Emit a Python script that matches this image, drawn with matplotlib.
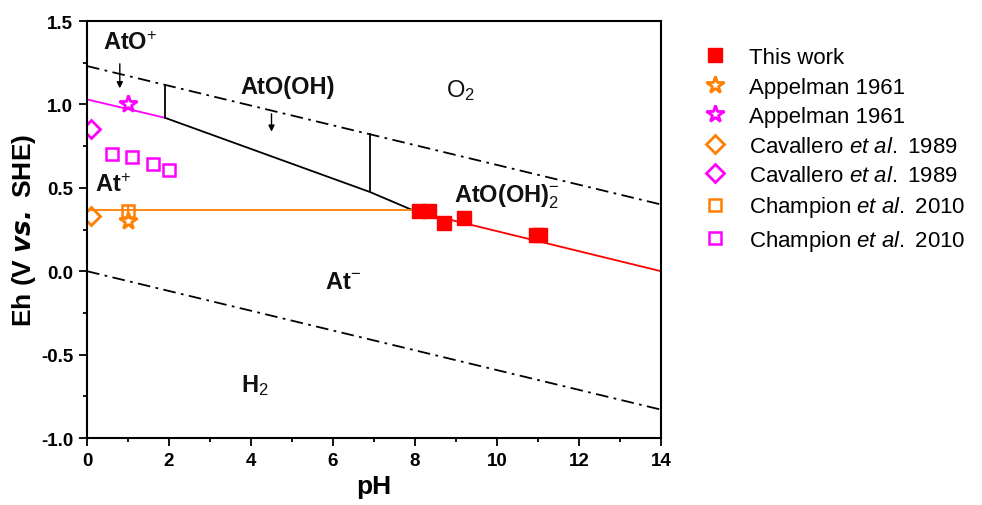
import matplotlib
matplotlib.use("Agg")
import matplotlib.pyplot as plt
import numpy as np

plt.rcParams['font.family'] = ['Liberation Sans', 'DejaVu Sans']
plt.rcParams['mathtext.fontset'] = 'custom'
plt.rcParams['mathtext.rm'] = 'Liberation Sans'
plt.rcParams['mathtext.it'] = 'Liberation Sans:italic'
plt.rcParams['mathtext.bf'] = 'Liberation Sans:bold'

# water stability lines
ph_water = [0, 14]
eh_o2 = [1.23, 0.40]
eh_h2 = [0.0, -0.83]

# species boundaries
ph_ato_at = [0, 1.9]
eh_ato_at = [1.03, 0.92]
ph_black = [1.9, 6.9, 8.0]
eh_black = [0.92, 0.475, 0.36]
ph_orange = [0, 8.0]
eh_orange = [0.365, 0.365]
ph_red = [8.0, 14]
eh_red = [0.36, 0.0]
vert_ph = [1.9, 6.9]
vert_lo = [0.92, 0.475]
vert_hi = [1.12, 0.83]

# data points
this_ph = [8.1, 8.35, 8.7, 9.2, 10.95, 11.05]
this_eh = [0.36, 0.36, 0.29, 0.32, 0.22, 0.22]
app_or_ph, app_or_eh = [1.0], [0.30]
app_mg_ph, app_mg_eh = [1.0], [1.0]
cav_or_ph, cav_or_eh = [0.1], [0.33]
cav_mg_ph, cav_mg_eh = [0.1], [0.85]
cha_or_ph, cha_or_eh = [1.0], [0.36]
cha_mg_ph = [0.6, 1.1, 1.6, 2.0]
cha_mg_eh = [0.70, 0.685, 0.645, 0.605]

orange = '#ff8000'
magenta = '#ff00ff'

fig = plt.figure(figsize=(9.82, 5.06), dpi=100)
ax = fig.add_axes([0.0886, 0.1324, 0.5845, 0.8241])

dd = (0, (7, 3, 1.5, 3))
ax.plot(ph_water, eh_o2, color='black', ls=dd, lw=1.3)
ax.plot(ph_water, eh_h2, color='black', ls=dd, lw=1.3)
ax.plot(ph_ato_at, eh_ato_at, color=magenta, lw=1.3)
ax.plot(ph_black, eh_black, color='black', lw=1.3)
ax.plot(ph_orange, eh_orange, color=orange, lw=1.3)
ax.plot(ph_red, eh_red, color='red', lw=1.3)
ax.vlines(vert_ph, vert_lo, vert_hi, color='black', lw=1.3)

h1, = ax.plot(this_ph, this_eh, 's', color='red', ms=10, label='This work', zorder=5)
ax.errorbar([11.0], [0.22], xerr=[0.12], fmt='none', ecolor='red', lw=1.3, zorder=5)
h2, = ax.plot(app_or_ph, app_or_eh, '*', mfc='none', mec=orange, mew=2, ms=13, label='Appelman 1961')
h3, = ax.plot(app_mg_ph, app_mg_eh, '*', mfc='none', mec=magenta, mew=2, ms=13, label='Appelman 1961')
h4, = ax.plot(cav_or_ph, cav_or_eh, 'D', mfc='none', mec=orange, mew=2, ms=9,
              label='Cavallero $\\it{et\\ al.}$ 1989')
h5, = ax.plot(cav_mg_ph, cav_mg_eh, 'D', mfc='none', mec=magenta, mew=2, ms=9,
              label='Cavallero $\\it{et\\ al.}$ 1989')
ax.errorbar(cha_or_ph, cha_or_eh, yerr=[0.03], fmt='none', ecolor=orange, lw=1.5)
h6, = ax.plot(cha_or_ph, cha_or_eh, 's', mfc='none', mec=orange, mew=1.8, ms=8,
              label='Champion $\\it{et\\ al.}$ 2010')
h7, = ax.plot(cha_mg_ph, cha_mg_eh, 's', mfc='none', mec=magenta, mew=1.8, ms=8,
              label='Champion $\\it{et\\ al.}$ 2010')

# labels
tk = dict(fontsize=17, fontweight='bold', color='#111111')
ax.text(0.4, 1.37, 'AtO$^{+}$', ha='left', va='center', **tk)
ax.text(0.2, 0.52, 'At$^{+}$', ha='left', va='center', **tk)
ax.text(4.9, 1.11, 'AtO(OH)', ha='center', va='center', **tk)
ax.text(10.25, 0.45, 'AtO(OH)$_{2}^{-}$', ha='center', va='center', **tk)
ax.text(6.25, -0.06, 'At$^{-}$', ha='center', va='center', **tk)
ax.text(4.1, -0.68, 'H$_{2}$', ha='center', va='center', **tk)
ax.text(9.1, 1.09, 'O$_{2}$', ha='center', va='center', fontsize=17, color='#111111')

arr = dict(arrowstyle='-|>', color='black', lw=1, mutation_scale=9)
ax.annotate('', xy=(0.8, 1.08), xytext=(0.8, 1.26), arrowprops=arr)
ax.annotate('', xy=(4.5, 0.82), xytext=(4.5, 0.96), arrowprops=arr)

ax.set_xlim(0, 14)
ax.set_ylim(-1.0, 1.5)
ax.set_xticks(np.arange(0, 15, 2))
ax.set_xticks(np.arange(1, 14, 2), minor=True)
ax.set_yticks(np.arange(-1.0, 1.51, 0.5))
ax.set_yticks(np.arange(-0.75, 1.5, 0.5), minor=True)
ax.set_yticklabels(['-1.0', '-0.5', '0.0', '0.5', '1.0', '1.5'])
for lab in ax.get_xticklabels() + ax.get_yticklabels():
    lab.set_fontweight('bold')
ax.tick_params(labelsize=13.5, width=1.3, length=6, direction='out', pad=4)
ax.tick_params(which='minor', width=1.3, length=3, direction='out')
for s in ax.spines.values():
    s.set_linewidth(1.5)

ax.set_xlabel('pH', fontsize=19, fontweight='bold', labelpad=4)
ax.set_ylabel('Eh (V $\\mathbfit{vs.}$ SHE)', fontsize=19, fontweight='bold', labelpad=2)

ax.legend(handles=[h1, h2, h3, h4, h5, h6, h7], loc='upper left',
          bbox_to_anchor=(1.03, 0.985), frameon=False, fontsize=16,
          handletextpad=0.8, labelspacing=0.38, numpoints=1, handlelength=1.5)

fig.savefig('out.png', dpi=100)
